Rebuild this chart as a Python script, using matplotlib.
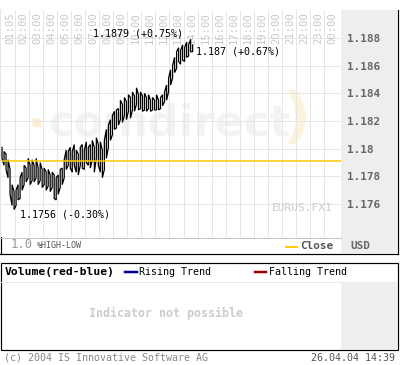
import numpy as np
import matplotlib
matplotlib.use('Agg')
import matplotlib.pyplot as plt
import matplotlib.transforms as mtrans
from matplotlib.patches import Rectangle

plt.rcParams['font.family'] = ['DejaVu Sans Mono']

# ---------------- data ----------------
highs = [1.1801, 1.1798, 1.1796, 1.1792, 1.1785, 1.1774, 1.1769, 1.1770, 1.1774, 1.1779,
         1.1783, 1.1788, 1.1786, 1.1793, 1.1788, 1.1792, 1.1788, 1.1793, 1.1786, 1.1790,
         1.1785, 1.1786, 1.1783, 1.1785, 1.1781, 1.1783, 1.1781, 1.1779, 1.1781, 1.1785,
         1.1786, 1.1792, 1.1799, 1.1798, 1.1801, 1.1798, 1.1803, 1.1799, 1.1796, 1.1801,
         1.1803, 1.1799, 1.1805, 1.1801, 1.1803, 1.1806, 1.1801, 1.1808, 1.1803, 1.1805,
         1.1799, 1.1806, 1.1814, 1.1817, 1.1821, 1.1824, 1.1827, 1.1828, 1.1829, 1.1835,
         1.1832, 1.1837, 1.1834, 1.1839, 1.1837, 1.1841, 1.1838, 1.1844, 1.1839, 1.1841,
         1.1838, 1.1840, 1.1837, 1.1839, 1.1835, 1.1837, 1.1835, 1.1839, 1.1835, 1.1837,
         1.1839, 1.1841, 1.1846, 1.1851, 1.1857, 1.1860, 1.1866, 1.1870, 1.1873, 1.1871,
         1.1875, 1.1873, 1.1877, 1.1875, 1.1879, 1.1875]
lows = [1.1793, 1.1788, 1.1785, 1.1779, 1.1767, 1.1759, 1.1756, 1.1759, 1.1763, 1.1764,
        1.1770, 1.1774, 1.1776, 1.1779, 1.1774, 1.1777, 1.1776, 1.1779, 1.1774, 1.1777,
        1.1772, 1.1774, 1.1770, 1.1773, 1.1769, 1.1772, 1.1764, 1.1763, 1.1767, 1.1772,
        1.1774, 1.1779, 1.1785, 1.1788, 1.1786, 1.1783, 1.1788, 1.1783, 1.1781, 1.1788,
        1.1786, 1.1785, 1.1790, 1.1788, 1.1786, 1.1792, 1.1783, 1.1793, 1.1788, 1.1783,
        1.1779, 1.1785, 1.1793, 1.1801, 1.1806, 1.1810, 1.1814, 1.1815, 1.1817, 1.1821,
        1.1819, 1.1824, 1.1821, 1.1827, 1.1822, 1.1828, 1.1827, 1.1832, 1.1828, 1.1829,
        1.1827, 1.1828, 1.1827, 1.1829, 1.1827, 1.1828, 1.1828, 1.1828, 1.1828, 1.1829,
        1.1831, 1.1834, 1.1835, 1.1841, 1.1846, 1.1851, 1.1855, 1.1858, 1.1863, 1.1861,
        1.1864, 1.1863, 1.1866, 1.1867, 1.1870, 1.1870]
t_start = 1 + 5 / 60      # 01:05
t_end = 14 + 39 / 60      # 14:39
prev_close = 1.1791
last_close = 1.1870
y_ticks = [1.176, 1.178, 1.180, 1.182, 1.184, 1.186, 1.188]
y_tick_labels = ['1.176', '1.178', '1.18', '1.182', '1.184', '1.186', '1.188']
hour_ticks = list(range(2, 25))
time_labels = ['01:05', '02:00', '03:00', '04:00', '05:00', '06:00', '07:00', '08:00',
               '09:00', '10:00', '11:00', '12:00', '13:00', '14:00', '15:00', '16:00',
               '17:00', '18:00', '19:00', '20:00', '21:00', '22:00', '23:00', '00:00']

W, H = 400, 365
fig = plt.figure(figsize=(W / 100, H / 100), dpi=100)
fig.patch.set_facecolor('white')


def box(x0, y0, x1, y1):
    return [x0 / W, 1 - y1 / H, (x1 - x0) / W, (y1 - y0) / H]


PX = 0.72  # points per pixel

# ---------- overlay (frames, panels, static texts) ----------
ov = fig.add_axes([0, 0, 1, 1], zorder=0)
ov.set_xlim(0, W)
ov.set_ylim(H, 0)
ov.axis('off')
ov.add_patch(Rectangle((341, 10), 56, 243, facecolor='#eeeeee', edgecolor='none'))
ov.add_patch(Rectangle((341, 282), 56, 67, facecolor='#eeeeee', edgecolor='none'))
ov.plot([0.5, 0.5], [10, 253.5], color='black', lw=PX * 1.2)
ov.plot([397.5, 397.5], [10, 253.5], color='black', lw=PX * 1.2)
ov.plot([0, 398], [253.5, 253.5], color='black', lw=PX * 1.2)
ov.plot([0, 341], [237.5, 237.5], color='#c4c4c4', lw=PX)
ov.add_patch(Rectangle((0.5, 262.5), 397, 87, facecolor='none', edgecolor='black', lw=PX * 1.2))
ov.plot([1, 397], [281.5, 281.5], color='#ebebeb', lw=PX)

ov.text(11, 245, '1.0', fontsize=8.8, color='#999999', ha='left', va='center')
ov.text(37, 246, '%HIGH-LOW', fontsize=6, color='#555555', ha='left', va='center')
ov.plot([286, 297], [247, 247], color='#ffcc00', lw=PX * 2)
ov.text(300, 246, 'Close', fontsize=7.9, fontweight='bold', color='#555555', ha='left', va='center')
ov.text(350, 246, 'USD', fontsize=7.9, fontweight='bold', color='#666666', ha='left', va='center')

ov.text(5, 272, 'Volume(red-blue)', fontsize=8.2, fontweight='bold', color='black', ha='left', va='center')
ov.plot([125, 137], [272, 272], color='#000099', lw=PX * 2.5)
ov.text(139, 272, 'Rising Trend', fontsize=7.2, color='black', ha='left', va='center')
ov.plot([255, 266], [272, 272], color='#990000', lw=PX * 2.5)
ov.text(269, 272, 'Falling Trend', fontsize=7.2, color='black', ha='left', va='center')
ov.text(166, 313, 'Indicator not possible', fontsize=8.4, fontweight='bold', color='#cccccc',
        ha='center', va='center')
ov.text(4, 358, '(c) 2004 IS Innovative Software AG', fontsize=7.2, color='#888888', ha='left', va='center')
ov.text(395, 358, '26.04.04 14:39', fontsize=7.2, color='#555555', ha='right', va='center')

# ---------------- main price axes ----------------
ax = fig.add_axes(box(1, 10, 341, 237), zorder=2)
ax.set_facecolor('white')
px_per_h = 14.05
ax.set_xlim(1.01, 1.01 + 340 / px_per_h)
ax.set_ylim(1.17362, 1.19002)
for s in ax.spines.values():
    s.set_visible(False)
ax.set_xticks([])
ax.yaxis.tick_right()
ax.set_yticks(y_ticks)
ax.set_yticklabels(y_tick_labels)
ax.tick_params(axis='y', length=0, pad=4, labelsize=7.9, labelcolor='#666666')
for lab in ax.get_yticklabels():
    lab.set_fontweight('bold')

x0, x1 = ax.get_xlim()
y0, y1 = ax.get_ylim()
ax.hlines(y_ticks, x0, x1, color='#e6e6e6', lw=PX, zorder=1)
ax.vlines(hour_ticks, y0, y1, color='#e6e6e6', lw=PX, zorder=1)

# watermark
ax.text(0.494, 0.449, 'comdirect', transform=ax.transAxes, fontsize=31, fontweight='bold',
        family='DejaVu Sans', color='#f3f3f3', ha='center', va='baseline', zorder=0.5)
ax.text((36 - 1) / 340, (237 - 122) / 227, '\u25aa', transform=ax.transAxes, fontsize=12,
        family='DejaVu Sans', color='#feecd0', ha='center', va='center', zorder=0.5)
ax.text((296 - 1) / 340, (237 - 120) / 227, ')', transform=ax.transAxes, fontsize=44,
        family='DejaVu Sans', fontweight='bold', color='#fdf3dc', ha='center', va='center', zorder=0.5)

# time labels
tl_tr = mtrans.offset_copy(ax.get_xaxis_transform(), fig=fig, x=8 * PX, y=-2 * PX, units='points')
for tt, lab in zip([t_start] + hour_ticks, time_labels):
    ax.text(tt, 1, lab, transform=tl_tr, rotation=90, ha='center', va='top',
            fontsize=7.6, color='#c8c8c8', zorder=1.5)

# price series: vertical high-low strokes joined into one jagged trace
n = len(highs)
times = np.linspace(t_start, t_end, n)
xs, ys = [], []
for i, (t, h, l) in enumerate(zip(times, highs, lows)):
    xs += [t, t]
    ys += [h, l] if i % 2 == 0 else [l, h]
ax.plot(xs, ys, color='black', lw=0.9, zorder=3, solid_joinstyle='miter')

ax.axhline(prev_close, color='#ffcc00', lw=1.1, zorder=4)

# annotations
hi_i = int(np.argmax(highs))
lo_i = int(np.argmin(lows))
hi_v, lo_v = highs[hi_i], lows[lo_i]
ax.annotate(f'{hi_v:.4f} ({(hi_v / prev_close - 1) * 100:+.2f}%)', (times[hi_i], hi_v),
            xytext=(-8, 6), textcoords='offset pixels', ha='right', va='center',
            fontsize=7.2, color='black', zorder=5)
ax.annotate(f'{last_close:.3f} ({(last_close / prev_close - 1) * 100:+.2f}%)', (times[-1], last_close),
            xytext=(3, 0), textcoords='offset pixels', ha='left', va='center',
            fontsize=7.2, color='black', zorder=5)
ax.annotate(f'{lo_v:.4f} ({(lo_v / prev_close - 1) * 100:+.2f}%)', (times[lo_i], lo_v),
            xytext=(6, -5), textcoords='offset pixels', ha='left', va='center',
            fontsize=7.2, color='black', zorder=5)

ax.text((333 - 1) / 340, (237 - 208) / 227, 'EURUS.FX1', transform=ax.transAxes,
        fontsize=8.1, color='#cccccc', ha='right', va='center', zorder=1.5)

fig.savefig('out.png', dpi=100)
